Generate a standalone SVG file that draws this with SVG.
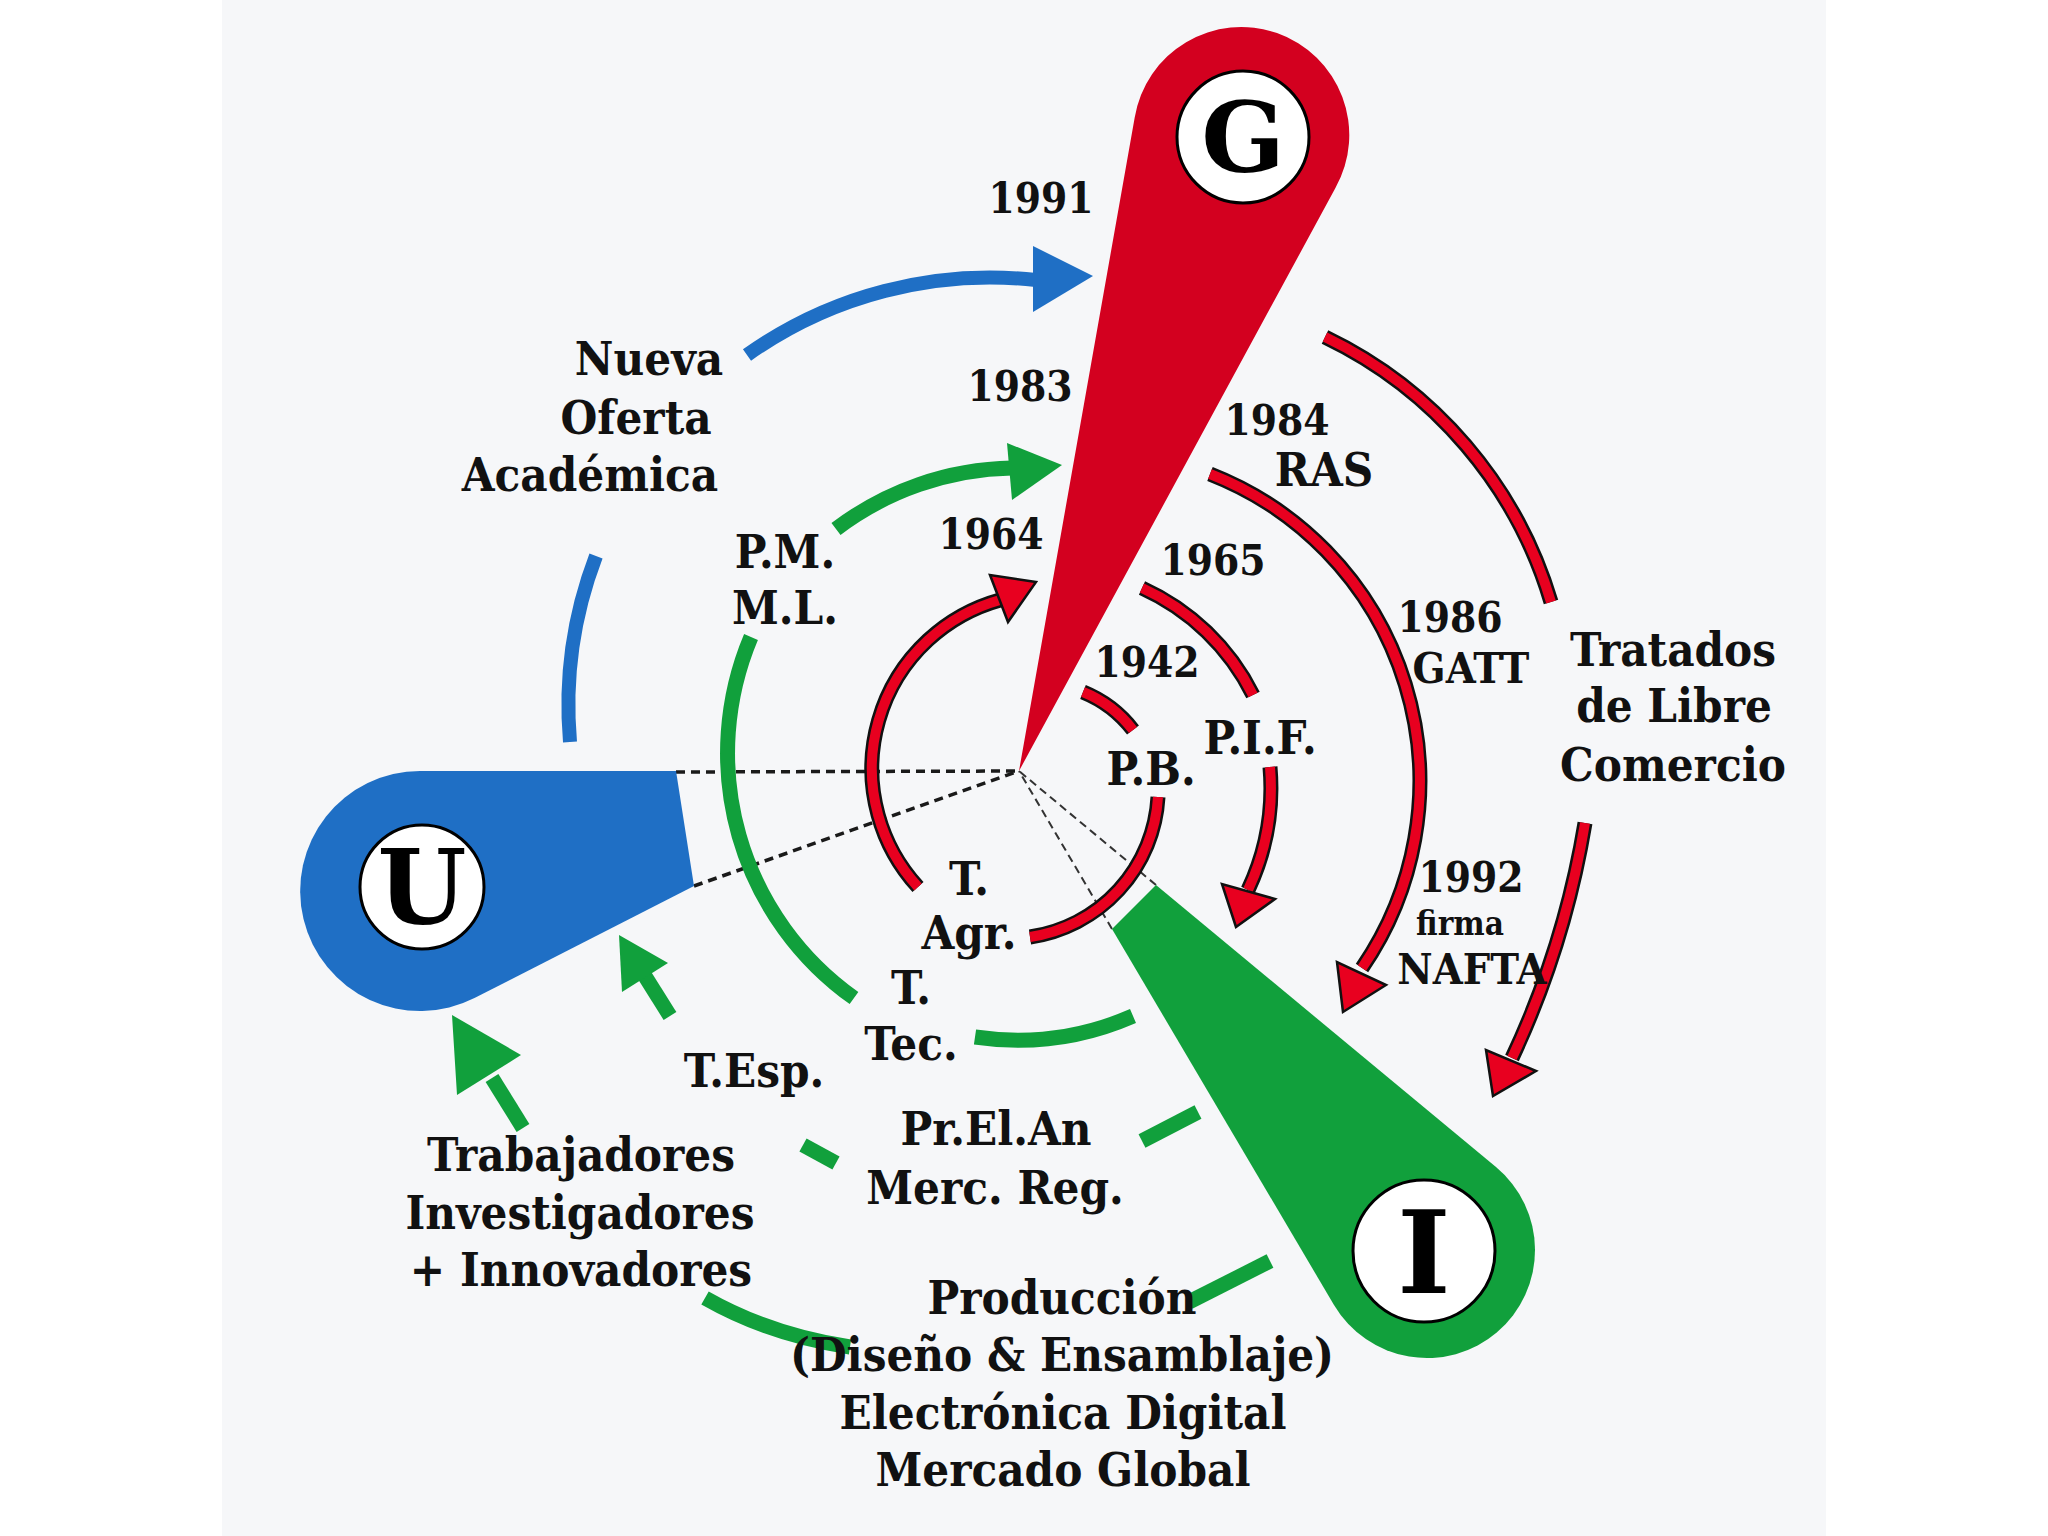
<svg xmlns="http://www.w3.org/2000/svg" xmlns:xlink="http://www.w3.org/1999/xlink" width="2048" height="1536" viewBox="0 0 2048 1536">
<defs>
<style>
.lbl{font-family:'DejaVu Serif Condensed','DejaVu Serif',serif;font-stretch:condensed;font-weight:bold;fill:#111;text-anchor:middle;font-size:47px}
.num{font-size:42px}
.sm{font-size:33px}
.mid{font-size:43px}
.big{font-family:'DejaVu Serif','Liberation Serif',serif;font-weight:bold;fill:#000;text-anchor:middle}
.dash{fill:none;stroke:#1a1a1a;stroke-width:3.5;stroke-dasharray:9 6}
.dash2{fill:none;stroke:#333;stroke-width:2;stroke-dasharray:8 5}
.blue{fill:none;stroke:#1f6fc5;stroke-width:14}
.green{fill:none;stroke:#11a03c;stroke-width:15}
.redo{fill:none;stroke:#111;stroke-width:15}
.redi{fill:none;stroke:#e8001f;stroke-width:10}
.rhead{fill:#e8001f;stroke:#111;stroke-width:2.5;stroke-linejoin:miter}
.circ{fill:#fff;stroke:#000;stroke-width:3}
</style>
</defs>
<rect x="0" y="0" width="2048" height="1536" fill="#ffffff"/>
<rect x="222" y="0" width="1604" height="1536" fill="#f6f7f9"/>

<g id="dashed-links">
<path class="dash" d="M676 772 L1019 771"/>
<path class="dash" d="M694 886 L1019 771"/>
<path class="dash2" d="M1156 885 L1019 771"/>
<path class="dash2" d="M1112 929 L1019 771"/>
</g>

<g id="connectors">
<path class="blue" d="M747 355 A420 420 0 0 1 1036 280"/>
<polygon fill="#1f6fc5" points="1093,276 1033,246 1033,312"/>
<path class="blue" d="M596 556 A420 420 0 0 0 570 742"/>
<path class="green" d="M836 529 A300 300 0 0 1 1012 468"/>
<polygon fill="#11a03c" points="1062,465 1007,443 1012,500"/>
<path class="green" d="M751 637 A300 300 0 0 0 854 998"/>
<path class="green" d="M975 1037 A290 290 0 0 0 1133 1016"/>
<path class="green" d="M803 1145 L836 1163"/>
<path class="green" d="M1142 1141 L1198 1112"/>
<path class="green" d="M1189 1302 L1270 1261"/>
<path class="green" d="M705 1298 Q770 1335 850 1347"/>
<path class="green" d="M670 1016 L643 973"/>
<polygon fill="#11a03c" points="619,935 668,963 622,992"/>
<path class="green" stroke-width="16" d="M523 1128 L492 1078"/>
<polygon fill="#11a03c" points="452,1015 521,1055 457,1095"/>
<g id="red-1964">
<path class="redo" d="M918 887 A175 175 0 0 1 1000 600"/>
<path class="redi" d="M918 887 A175 175 0 0 1 1000 600"/>
<polygon class="rhead" points="1036,582 990,575 1008,622"/>
</g>
<g id="red-1942">
<path class="redo" d="M1083 692 A120 120 0 0 1 1133 730"/>
<path class="redi" d="M1083 692 A120 120 0 0 1 1133 730"/>
<path class="redo" d="M1158 797 A150 150 0 0 1 1030 937"/>
<path class="redi" d="M1158 797 A150 150 0 0 1 1030 937"/>
</g>
<g id="red-1965">
<path class="redo" d="M1142 588 A230 230 0 0 1 1253 695"/>
<path class="redi" d="M1142 588 A230 230 0 0 1 1253 695"/>
<path class="redo" d="M1270 767 A240 240 0 0 1 1248 890"/>
<path class="redi" d="M1270 767 A240 240 0 0 1 1248 890"/>
<polygon class="rhead" points="1236,927 1222,884 1275,899"/>
</g>
<g id="red-1984">
<path class="redo" d="M1210 474 A330 330 0 0 1 1362 968"/>
<path class="redi" d="M1210 474 A330 330 0 0 1 1362 968"/>
<polygon class="rhead" points="1343,1012 1337,962 1386,985"/>
</g>
<g id="red-tratados">
<path class="redo" d="M1325 337 A430 430 0 0 1 1551 602"/>
<path class="redi" d="M1325 337 A430 430 0 0 1 1551 602"/>
<path class="redo" d="M1585 823 A900 900 0 0 1 1512 1058"/>
<path class="redi" d="M1585 823 A900 900 0 0 1 1512 1058"/>
<polygon class="rhead" points="1493,1096 1486,1050 1536,1071"/>
</g>
</g>

<g id="node-G">
<path fill="#d3001f" d="M1019 771 L1134.7 117.6 A108 108 0 1 1 1335.4 188 Z"/>
<circle class="circ" cx="1243" cy="137" r="66"/>
<text class="big" x="1243" y="172" font-size="98">G</text>
</g>

<g id="node-U">
<path fill="#1f6fc5" d="M420 771 L676 771 L694 886 L474.5 998 A120 120 0 1 1 420 771 Z"/>
<circle class="circ" cx="422" cy="887" r="62"/>
<text class="big" x="422" y="924" font-size="102">U</text>
</g>

<g id="node-I">
<path fill="#11a03c" d="M1156 885 L1496 1167 A108 108 0 1 1 1334 1305 L1112 929 Z"/>
<circle class="circ" cx="1424" cy="1251" r="71"/>
<text class="big" x="1424" y="1293" font-size="114">I</text>
</g>

<g id="labels">
<text class="lbl num" x="1041" y="213">1991</text>
<text class="lbl" x="649" y="375">Nueva</text>
<text class="lbl" x="636" y="434">Oferta</text>
<text class="lbl" x="590" y="491">Académica</text>
<text class="lbl num" x="1020" y="401">1983</text>
<text class="lbl num" x="1277" y="435">1984</text>
<text class="lbl" x="1324" y="486">RAS</text>
<text class="lbl" x="785" y="568">P.M.</text>
<text class="lbl" x="785" y="624">M.L.</text>
<text class="lbl num" x="991" y="549">1964</text>
<text class="lbl num" x="1213" y="575">1965</text>
<text class="lbl num" x="1450" y="632">1986</text>
<text class="lbl mid" x="1471" y="683">GATT</text>
<text class="lbl" x="1673" y="666">Tratados</text>
<text class="lbl" x="1674" y="722">de Libre</text>
<text class="lbl" x="1673" y="781">Comercio</text>
<text class="lbl num" x="1147" y="677">1942</text>
<text class="lbl" x="1260" y="754">P.I.F.</text>
<text class="lbl" x="1151" y="785">P.B.</text>
<text class="lbl" x="969" y="895">T.</text>
<text class="lbl" x="969" y="949">Agr.</text>
<text class="lbl num" x="1471" y="892">1992</text>
<text class="lbl sm" x="1460" y="935">firma</text>
<text class="lbl mid" x="1472" y="984">NAFTA</text>
<text class="lbl" x="911" y="1004">T.</text>
<text class="lbl" x="911" y="1060">Tec.</text>
<text class="lbl" x="754" y="1087">T.Esp.</text>
<text class="lbl" x="996" y="1145">Pr.El.An</text>
<text class="lbl" x="995" y="1204">Merc. Reg.</text>
<text class="lbl" x="581" y="1171">Trabajadores</text>
<text class="lbl" x="580" y="1229">Investigadores</text>
<text class="lbl" x="581" y="1286">+ Innovadores</text>
<text class="lbl" x="1062" y="1314">Producción</text>
<text class="lbl" x="1062" y="1371">(Diseño &amp; Ensamblaje)</text>
<text class="lbl" x="1063" y="1429">Electrónica Digital</text>
<text class="lbl" x="1063" y="1486">Mercado Global</text>
</g>
</svg>
